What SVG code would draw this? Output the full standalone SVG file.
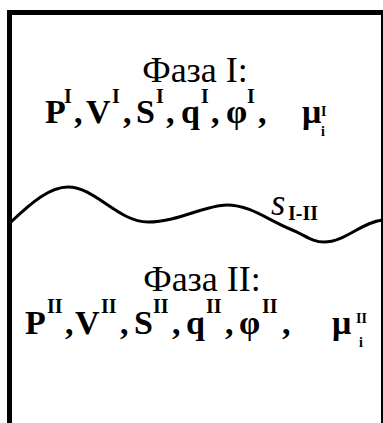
<svg xmlns="http://www.w3.org/2000/svg" width="383" height="423" viewBox="0 0 383 423">
<style>
.t{font-family:"Liberation Serif","Times New Roman",serif;fill:#000}
.h{font-size:36px}
.b{font-size:34px;font-weight:bold}
.sp{font-size:20px;font-weight:bold}
.sm{font-size:14px;font-weight:bold}
.ln{fill:none;stroke:#000}
</style>
<rect width="383" height="423" fill="#fff"/>
<g id="vessel">
<rect class="ln" x="9.5" y="12.5" width="374" height="430" stroke-width="5"/>
</g>
<g id="interface">
<path class="ln" stroke-width="3" d="M11,222 C32,202 50,187 68,187 C95,187 118,222 148,222 C178,222 205,205 227,205 C250,205 268,220 290,229 C305,235 312,242 324,242 C345,242 362,222 383,220"/>
<text class="t" x="271" y="215" style="font-size:37px;font-style:italic">s</text>
<text class="t" x="288" y="220" style="font-size:20px;font-weight:bold">I-II</text>
</g>
<g id="phase1">
<text class="t h" x="195" y="82" text-anchor="middle">Фаза I:</text>
<text class="t b" y="123"><tspan x="45">P</tspan><tspan class="sp" x="64" y="103">I</tspan><tspan x="74" y="123">,</tspan><tspan x="86">V</tspan><tspan class="sp" x="112" y="103">I</tspan><tspan x="123" y="123">,</tspan><tspan x="136">S</tspan><tspan class="sp" x="156" y="103">I</tspan><tspan x="166" y="123">,</tspan><tspan x="181">q</tspan><tspan class="sp" x="201" y="103">I</tspan><tspan x="211" y="123">,</tspan><tspan x="226">φ</tspan><tspan class="sp" x="247" y="103">I</tspan><tspan x="258" y="123">,</tspan><tspan x="302">μ</tspan><tspan class="sm" x="321" y="116">I</tspan><tspan class="sm" x="321" y="136">i</tspan></text>
</g>
<g id="phase2">
<text class="t h" x="202" y="291" text-anchor="middle">Фаза II:</text>
<text class="t b" y="334"><tspan x="25">P</tspan><tspan class="sp" x="47" y="313">II</tspan><tspan x="65" y="334">,</tspan><tspan x="75">V</tspan><tspan class="sp" x="101" y="313">II</tspan><tspan x="120" y="334">,</tspan><tspan x="134">S</tspan><tspan class="sp" x="153" y="313">II</tspan><tspan x="172" y="334">,</tspan><tspan x="186">q</tspan><tspan class="sp" x="206" y="313">II</tspan><tspan x="225" y="334">,</tspan><tspan x="239">φ</tspan><tspan class="sp" x="262" y="313">II</tspan><tspan x="282" y="334">,</tspan><tspan x="332">μ</tspan><tspan class="sm" x="356" y="323">II</tspan><tspan class="sm" x="359" y="347">i</tspan></text>
</g>
</svg>
